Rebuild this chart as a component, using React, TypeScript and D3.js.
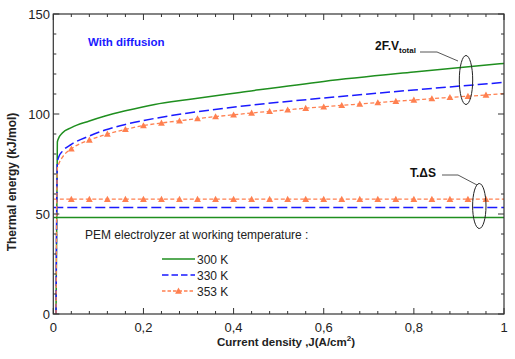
import React from "react";
import * as d3 from "d3";

// ---- data ----
const greenJ = [0.006, 0.009, 0.012, 0.02, 0.04, 0.08, 0.115, 0.16, 0.225, 0.3, 0.414, 0.6, 0.8, 1.0];
const greenV = [0, 86, 88, 90.5, 93.2, 96.5, 99, 101.6, 104.8, 107.3, 110.8, 116.3, 121, 125.3];

const blueJ = [0.006, 0.009, 0.012, 0.02, 0.04, 0.08, 0.115, 0.16, 0.225, 0.3, 0.414, 0.6, 0.8, 1.0];
const blueV = [0, 76, 78.5, 81.3, 84.8, 89, 92, 94.8, 97.8, 100.5, 103.8, 108, 112, 115.8];

const orangeJ = [0.006, 0.009, 0.012, 0.02, 0.04, 0.08, 0.12, 0.16, 0.2, 0.24, 0.28, 0.32, 0.36, 0.4, 0.44, 0.48, 0.52, 0.56, 0.6, 0.64, 0.68, 0.72, 0.76, 0.8, 0.84, 0.88, 0.92, 0.96, 1.0];
const orangeV = [0, 72.8, 75, 78.3, 82.6, 87, 90, 92.3, 94.2, 95.5, 96.6, 97.7, 98.7, 99.6, 100.5, 101.3, 102.1, 102.9, 103.6, 104.3, 105, 105.7, 106.4, 107, 107.7, 108.3, 108.9, 109.5, 110.2];

const tdsJ = [0, 1];
const tdsGreen = [48.3, 48.3];
const tdsBlue = [53.3, 53.3];
const tdsOrange = [57.4, 57.4];
const tdsMarkJ = [0.04, 0.08, 0.12, 0.16, 0.2, 0.24, 0.28, 0.32, 0.36, 0.4, 0.44, 0.48, 0.52, 0.56, 0.6, 0.64, 0.68, 0.72, 0.76, 0.8, 0.84, 0.88, 0.92, 0.96];

const xMajor = [0, 0.2, 0.4, 0.6, 0.8, 1];
const xMajorLabels = ["0", "0,2", "0,4", "0,6", "0,8", "1"];
const xMinor = d3.range(0, 1.0001, 0.04);
const yMajor = [0, 50, 100, 150];
const yMinor = d3.range(0, 150.01, 10);

const legendLabels = ["300 K", "330 K", "353 K"];

const GREEN = "#1f8f1f";
const BLUE = "#1a1aff";
const ORANGE = "#ff8050";
const AXIS = "#333";
const FONT = "Liberation Sans, Arial, sans-serif";

export default function App() {
  const W = 515, H = 359;
  const x = d3.scaleLinear().domain([0, 1]).range([53.3, 504]);
  const y = d3.scaleLinear().domain([0, 150]).range([314, 14]);

  const line = d3
    .line<[number, number]>()
    .x((d) => x(d[0]))
    .y((d) => y(d[1]))
    .curve(d3.curveMonotoneX);
  const zip = (a: number[], b: number[]) => a.map((v, i) => [v, b[i]] as [number, number]);

  const tri = (cx: number, cy: number, s = 3.4) =>
    `M${cx},${cy - s}L${cx + s},${cy + s * 0.8}L${cx - s},${cy + s * 0.8}Z`;

  const orangeMarks = orangeJ
    .map((j, i) => [j, orangeV[i]] as [number, number])
    .filter((d) => d[0] >= 0.039 && d[0] < 0.99);

  const [x0, x1] = x.range();
  const [yb, yt] = y.range();

  return (
    <svg
      width={W}
      height={H}
      style={{ position: "absolute", left: 0, top: 0, background: "#fff" }}
      fontFamily={FONT}
    >
      <defs>
        <clipPath id="plot">
          <rect x={x0} y={yt} width={x1 - x0} height={yb - yt} />
        </clipPath>
      </defs>

      {/* series */}
      <g clipPath="url(#plot)">
        <path d={line(zip(tdsJ, tdsGreen)) || ""} fill="none" stroke={GREEN} strokeWidth={1.5} />
        <path d={line(zip(tdsJ, tdsBlue)) || ""} fill="none" stroke={BLUE} strokeWidth={1.5} strokeDasharray="10,4" />
        <path d={line(zip(tdsJ, tdsOrange)) || ""} fill="none" stroke={ORANGE} strokeWidth={1.3} strokeDasharray="4,2.5" />
        {tdsMarkJ.map((j, i) => (
          <path key={"tm" + i} d={tri(x(j), y(tdsOrange[0]))} fill={ORANGE} />
        ))}

        <path d={line(zip(greenJ, greenV)) || ""} fill="none" stroke={GREEN} strokeWidth={1.5} />
        <path d={line(zip(blueJ, blueV)) || ""} fill="none" stroke={BLUE} strokeWidth={1.5} strokeDasharray="10,4" />
        <path d={line(zip(orangeJ, orangeV)) || ""} fill="none" stroke={ORANGE} strokeWidth={1.3} strokeDasharray="4,2.5" />
        {orangeMarks.map((d, i) => (
          <path key={"om" + i} d={tri(x(d[0]), y(d[1]))} fill={ORANGE} />
        ))}
      </g>

      {/* frame */}
      <rect x={x0} y={yt} width={x1 - x0} height={yb - yt} fill="none" stroke={AXIS} strokeWidth={1.2} />

      {/* ticks */}
      {xMinor.map((v, i) => {
        const isMajor = xMajor.some((m) => Math.abs(m - v) < 1e-6);
        const l = isMajor ? 6 : 3;
        return (
          <g key={"xt" + i} stroke={AXIS} strokeWidth={1}>
            <line x1={x(v)} x2={x(v)} y1={yb} y2={yb - l} />
            <line x1={x(v)} x2={x(v)} y1={yt} y2={yt + l} />
          </g>
        );
      })}
      {yMinor.map((v, i) => {
        const isMajor = yMajor.some((m) => Math.abs(m - v) < 1e-6);
        const l = isMajor ? 6 : 3;
        return (
          <g key={"yt" + i} stroke={AXIS} strokeWidth={1}>
            <line x1={x0} x2={x0 + l} y1={y(v)} y2={y(v)} />
            <line x1={x1} x2={x1 - l} y1={y(v)} y2={y(v)} />
          </g>
        );
      })}

      {/* tick labels */}
      {xMajor.map((v, i) => (
        <text key={"xl" + i} x={x(v)} y={332} textAnchor="middle" fontSize={13} fill="#222">
          {xMajorLabels[i]}
        </text>
      ))}
      {yMajor.map((v, i) => (
        <text key={"yl" + i} x={50} y={y(v) + 4.6} textAnchor="end" fontSize={13} fill="#222">
          {v}
        </text>
      ))}

      {/* axis titles */}
      <text x={286} y={346} textAnchor="middle" fontSize={11.5} fontWeight="bold" fill="#222">
        Current density ,J(A/cm<tspan dy={-5} fontSize={8}>2</tspan>
        <tspan dy={5}>)</tspan>
      </text>
      <text
        transform={`translate(16,${(yb + yt) / 2 + 18}) rotate(-90)`}
        textAnchor="middle"
        fontSize={12}
        fontWeight="bold"
        fill="#222"
      >
        Thermal energy (kJ/mol)
      </text>

      {/* annotations */}
      <text x={88} y={46} fontSize={11.5} fontWeight="bold" fill={BLUE}>
        With diffusion
      </text>

      <text x={375} y={50} fontSize={12} fontWeight="bold" fill="#111">
        2F.V<tspan dy={3} fontSize={8}>total</tspan>
      </text>
      <polyline points="420,52 437,52 458,61" fill="none" stroke="#444" strokeWidth={0.9} />
      <ellipse cx={466} cy={80} rx={6.7} ry={24.5} fill="none" stroke="#222" strokeWidth={1} />

      <text x={410} y={177} fontSize={12} fontWeight="bold" fill="#111">
        T.ΔS
      </text>
      <polyline points="442,175 458,175 477,185" fill="none" stroke="#444" strokeWidth={0.9} />
      <ellipse cx={479.3} cy={206} rx={6.7} ry={22.5} fill="none" stroke="#222" strokeWidth={1} />

      {/* legend */}
      <text x={85} y={239} fontSize={12} fill="#222">
        PEM electrolyzer at working temperature :
      </text>
      {legendLabels.map((lab, i) => {
        const ly = 259 + i * 16;
        return (
          <g key={"lg" + i}>
            {i === 0 && <line x1={162} x2={195} y1={ly} y2={ly} stroke={GREEN} strokeWidth={1.5} />}
            {i === 1 && (
              <line x1={162} x2={195} y1={ly} y2={ly} stroke={BLUE} strokeWidth={1.5} strokeDasharray="6.5,3" />
            )}
            {i === 2 && (
              <>
                <line x1={162} x2={195} y1={ly} y2={ly} stroke={ORANGE} strokeWidth={1.3} strokeDasharray="3.5,2" />
                <path d={tri(178.5, ly)} fill={ORANGE} />
              </>
            )}
            <text x={197} y={ly + 4.5} fontSize={12} fill="#222">
              {lab}
            </text>
          </g>
        );
      })}
    </svg>
  );
}
